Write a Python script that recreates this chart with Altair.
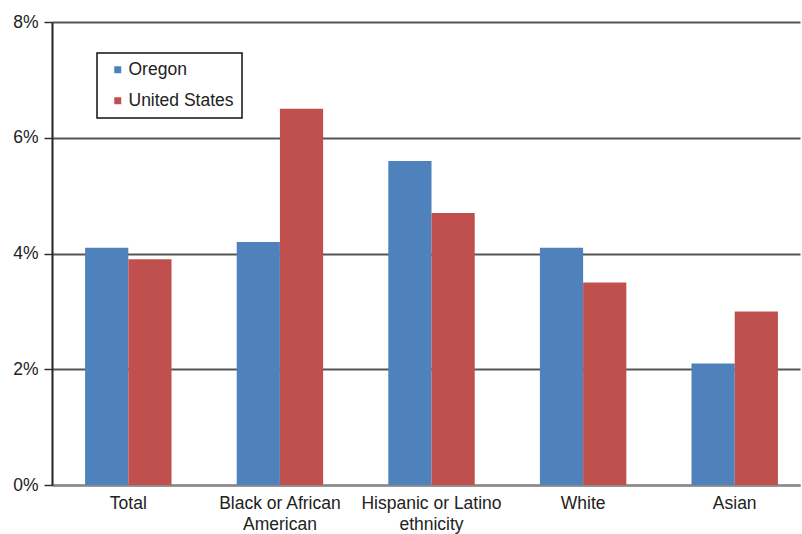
import altair as alt
import pandas as pd

# Unemployment-style rates by group, Oregon vs. United States (percent)
categories = ["Total", "Black or African American", "Hispanic or Latino ethnicity", "White", "Asian"]
tick_lines = [["Total"], ["Black or African", "American"], ["Hispanic or Latino", "ethnicity"], ["White"], ["Asian"]]
oregon = [4.1, 4.2, 5.6, 4.1, 2.1]
united_states = [3.9, 6.5, 4.7, 3.5, 3.0]
series = ["Oregon", "United States"]
colors = ["#4F81BD", "#C0504D"]

rows = []
for cat, o, u in zip(categories, oregon, united_states):
    rows.append({"group": cat, "series": "Oregon", "rate": o / 100})
    rows.append({"group": cat, "series": "United States", "rate": u / 100})
df = pd.DataFrame(rows)

# multi-line tick labels
parts = []
for cat, lines in zip(categories, tick_lines):
    arr = "[" + ",".join("'" + s + "'" for s in lines) + "]"
    parts.append(f"datum.label == '{cat}' ? {arr}")
label_expr = " : ".join(parts) + " : datum.label"

FONT = "Liberation Sans"
FS = 17.5

chart = alt.Chart(df).mark_bar().encode(
    x=alt.X(
        "group:N",
        sort=categories,
        scale=alt.Scale(paddingInner=0.43, paddingOuter=0.182, align=0.6),
        axis=alt.Axis(
            title=None,
            labelAngle=0,
            labelExpr=label_expr,
            labelFont=FONT,
            labelFontSize=FS,
            labelColor="#222222",
            labelPadding=9,
            labelLineHeight=21,
            labelBaseline="top",
            ticks=False,
            domainColor="#8a8a8a",
            domainWidth=2,
            grid=False,
        ),
    ),
    xOffset=alt.XOffset("series:N", sort=series, scale=alt.Scale(paddingInner=0, paddingOuter=0)),
    y=alt.Y(
        "rate:Q",
        scale=alt.Scale(domain=[0, 0.08], nice=False),
        axis=alt.Axis(
            title=None,
            format=".0%",
            values=[0, 0.02, 0.04, 0.06, 0.08],
            labelFont=FONT,
            labelFontSize=FS,
            labelColor="#222222",
            labelPadding=6,
            tickSize=8,
            tickColor="#333333",
            tickWidth=1.5,
            domainColor="#222222",
            domainWidth=2,
            grid=True,
            gridColor="#555555",
            gridWidth=2,
        ),
    ),
    color=alt.Color(
        "series:N",
        sort=series,
        scale=alt.Scale(domain=series, range=colors),
        legend=alt.Legend(
            title=None,
            orient="none",
            legendX=45,
            legendY=31,
            symbolType="square",
            symbolSize=49,
            symbolStrokeWidth=0,
            symbolOffset=4,
            labelFont=FONT,
            labelFontSize=FS,
            labelColor="#222222",
            labelOffset=2,
            labelExpr="datum.label + '   '",
            rowPadding=12,
            padding=8,
            strokeColor="#111111",
            fillColor="#ffffff",
        ),
    ),
).properties(
    width=748,
    height=463,
    autosize=alt.AutoSizeParams(type="none"),
    padding={"left": 52, "top": 22, "right": 2, "bottom": 49},
).configure_view(
    stroke=None
).configure_legend(
    strokeWidth=1.5
)

chart.save("out.html", embed_options={"renderer": "svg", "actions": False})
